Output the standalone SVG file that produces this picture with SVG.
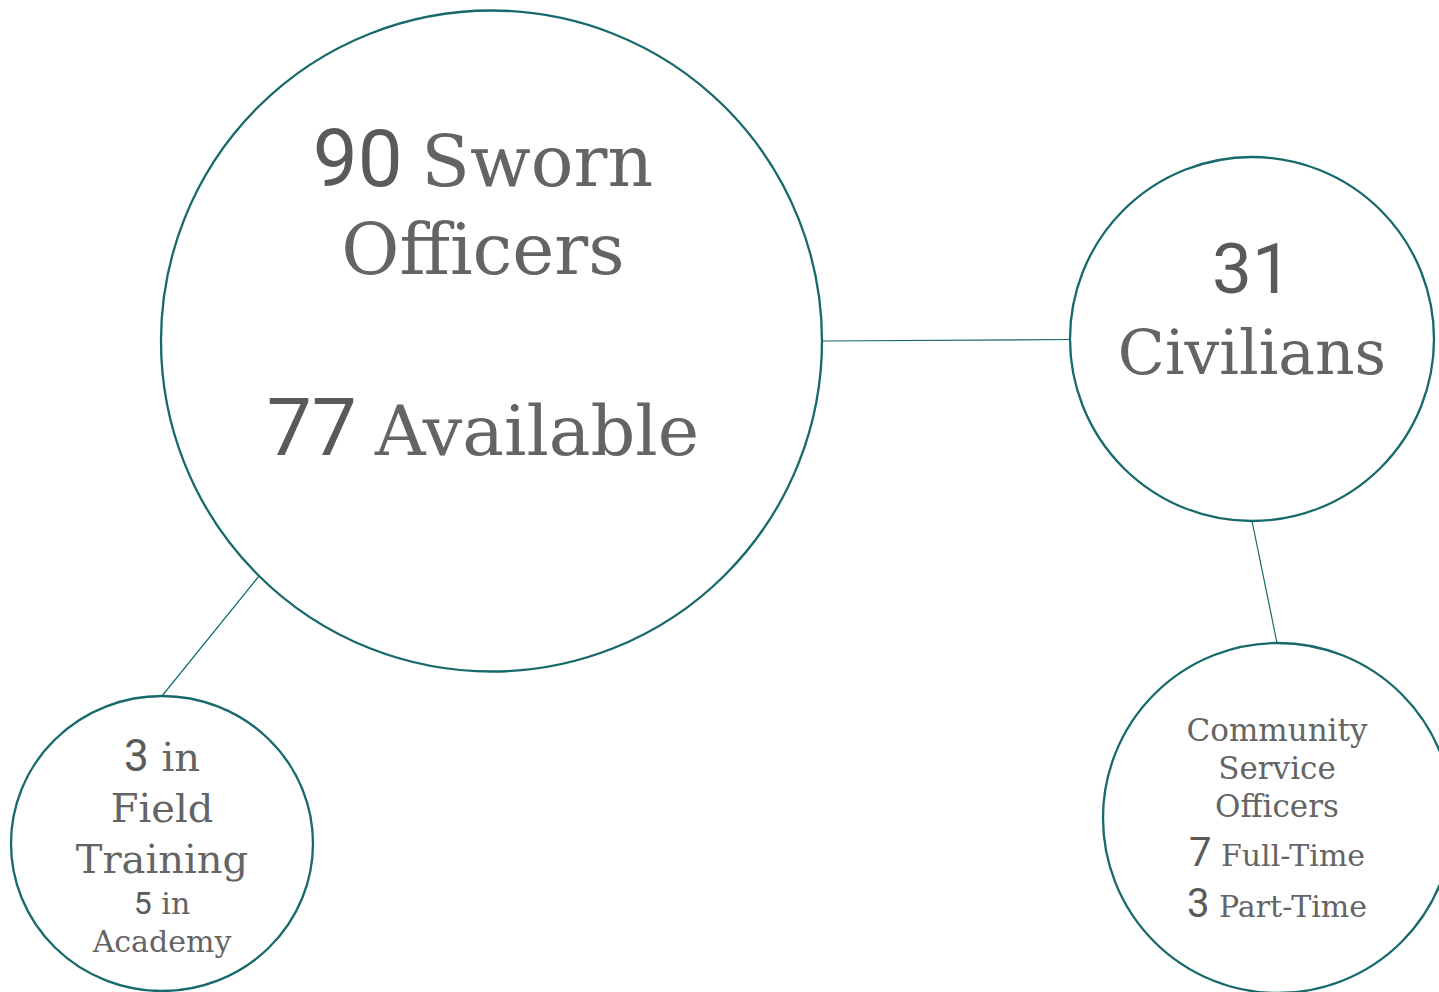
<svg xmlns="http://www.w3.org/2000/svg" width="1439" height="992" viewBox="0 0 1439 992">
<style>
.node{fill:#ffffff;stroke:#17696a;stroke-width:2.3}
.link{stroke:#17696a;stroke-width:1.2;fill:none}
text{fill:#5e5e5e;text-anchor:middle}
.n{font-family:Roboto,"Liberation Sans",sans-serif;font-weight:400;fill:#5a5a5a}
.w{font-family:"DejaVu Serif","Liberation Serif",serif;font-weight:300;fill:#646464}
</style>
<rect width="1439" height="992" fill="#ffffff"/>
<g id="connectors">
<line class="link" x1="823" y1="341" x2="1070" y2="339.5"/>
<line class="link" x1="1252" y1="521" x2="1277" y2="643"/>
<line class="link" x1="259" y1="576" x2="162" y2="696"/>
</g>
<g id="sworn">
<circle class="node" cx="491.5" cy="341" r="330.5"/>
<text x="483" y="186"><tspan class="n" font-size="80">90</tspan><tspan class="w" font-size="71" dx="-4"> Sworn</tspan></text>
<text x="483" y="274" class="w" font-size="71">Officers</text>
<text x="483" y="455"><tspan class="n" font-size="80">77</tspan><tspan class="w" font-size="70" dx="-4"> Available</tspan></text>
</g>
<g id="civilians">
<circle class="node" cx="1252" cy="339" r="182"/>
<text x="1252" y="293" class="n" font-size="71">31</text>
<text x="1252" y="374" class="w" font-size="61.5">Civilians</text>
</g>
<g id="cso">
<circle class="node" cx="1278" cy="818" r="175"/>
<text x="1277" y="741" class="w" font-size="31">Community</text>
<text x="1277" y="779" class="w" font-size="31">Service</text>
<text x="1277" y="817" class="w" font-size="31">Officers</text>
<text x="1277" y="866"><tspan class="n" font-size="40">7</tspan><tspan class="w" font-size="30"> Full-Time</tspan></text>
<text x="1277" y="917"><tspan class="n" font-size="40">3</tspan><tspan class="w" font-size="30"> Part-Time</tspan></text>
</g>
<g id="training">
<ellipse class="node" cx="162" cy="843.5" rx="151" ry="147.5"/>
<text x="162" y="771"><tspan class="n" font-size="44">3</tspan><tspan class="w" font-size="40"> in</tspan></text>
<text x="162" y="822" class="w" font-size="40">Field</text>
<text x="162" y="873" class="w" font-size="40">Training</text>
<text x="162" y="914"><tspan class="n" font-size="32">5</tspan><tspan class="w" font-size="30"> in</tspan></text>
<text x="162" y="952" class="w" font-size="30">Academy</text>
</g>
</svg>
